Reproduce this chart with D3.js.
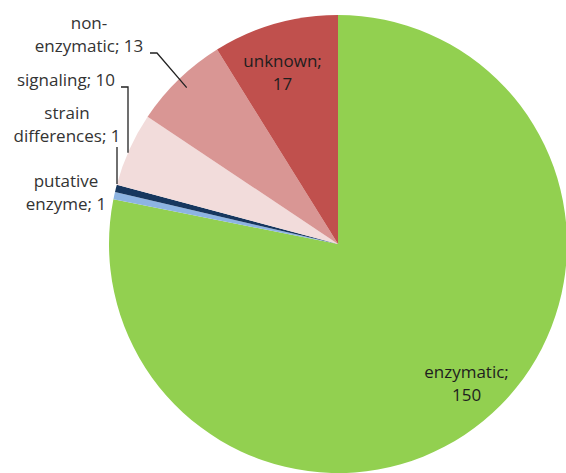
<!DOCTYPE html>
<html>
<head>
<meta charset="utf-8">
<script src="https://cdn.jsdelivr.net/npm/d3@7"></script>
<style>
  html, body { margin: 0; padding: 0; background: #fff; }
  svg text { font-family: "Open Sans", "Noto Sans", sans-serif; font-size: 17px; }
</style>
</head>
<body>
<svg id="chart" width="566" height="473"></svg>
<script>
// DATA //

const categories = ['enzymatic', 'putative enzyme', 'strain differences', 'signaling', 'non-enzymatic', 'unknown'];
const counts = [150, 1, 1, 10, 13, 17];
const colors = ['#92d050', '#8db4e2', '#17375e', '#f2dcdb', '#d99694', '#c0504d'];

// label text lines per slice
const labelLines = [
  ['enzymatic;', '150'],
  ['putative', 'enzyme; 1'],
  ['strain', 'differences; 1'],
  ['signaling; 10'],
  ['non-', 'enzymatic; 13'],
  ['unknown;', '17']
];

// LAYOUT //

const cx = 338, cy = 244, radius = 229;
const lineH = 23;

const svg = d3.select('#chart');
const g = svg.append('g').attr('transform', `translate(${cx},${cy})`);

const pie = d3.pie().sort(null).value(d => d.value);
const arcs = pie(categories.map((c, i) => ({ name: c, value: counts[i], i })));

const arc = d3.arc().innerRadius(0).outerRadius(radius);

g.selectAll('path.slice')
  .data(arcs)
  .enter().append('path')
  .attr('class', 'slice')
  .attr('d', arc)
  .attr('fill', d => colors[d.data.i]);

// point on a slice at fraction t of its angle span, at radius r
function slicePoint(d, t, r) {
  const a = d.startAngle + (d.endAngle - d.startAngle) * t;
  return [cx + r * Math.sin(a), cy - r * Math.cos(a)];
}

// inside labels (enzymatic, unknown)
const inside = [
  { i: 0, r: 190, dx: 8, dy: -7 },
  { i: 5, r: 180, dx: -6, dy: 2 }
];
inside.forEach(o => {
  const p = slicePoint(arcs[o.i], 0.5, o.r);
  const lines = labelLines[o.i];
  const t = svg.append('text')
    .attr('text-anchor', 'middle')
    .attr('fill', '#1e1e1e');
  lines.forEach((s, k) => {
    t.append('tspan')
      .attr('x', p[0] + o.dx)
      .attr('y', p[1] + o.dy + k * lineH - (lines.length - 1) * lineH / 2 + 6)
      .text(s);
  });
});

// outside labels with leader lines
const outside = [
  { i: 4, x: 89, y: 29, leader: { from: [150, 53], elbow: [157, 53], t: 0.5, r: 0.95 } },
  { i: 3, x: 66, y: 86, leader: { from: [121, 87], elbow: [128, 87], vertical: true } },
  { i: 2, x: 67, y: 119, leader: { from: [117, 147], vertical: true } },
  { i: 1, x: 66, y: 187, leader: null }
];

outside.forEach(o => {
  const t = svg.append('text')
    .attr('text-anchor', 'middle')
    .attr('fill', '#333');
  labelLines[o.i].forEach((s, k) => {
    t.append('tspan').attr('x', o.x).attr('y', o.y + k * lineH).text(s);
  });
  const L = o.leader;
  if (!L) return;
  const pts = [L.from];
  if (L.elbow) pts.push(L.elbow);
  const last = pts[pts.length - 1];
  if (L.vertical) {
    // drop straight down until it meets the pie's rim
    const dx = last[0] - cx;
    const yHit = cy - Math.sqrt(radius * radius - dx * dx);
    pts.push([last[0], yHit]);
  } else {
    pts.push(slicePoint(arcs[o.i], L.t, radius * L.r));
  }
  svg.append('path')
    .attr('d', d3.line()(pts))
    .attr('fill', 'none')
    .attr('stroke', '#222')
    .attr('stroke-width', 1.3);
});
</script>
</body>
</html>
